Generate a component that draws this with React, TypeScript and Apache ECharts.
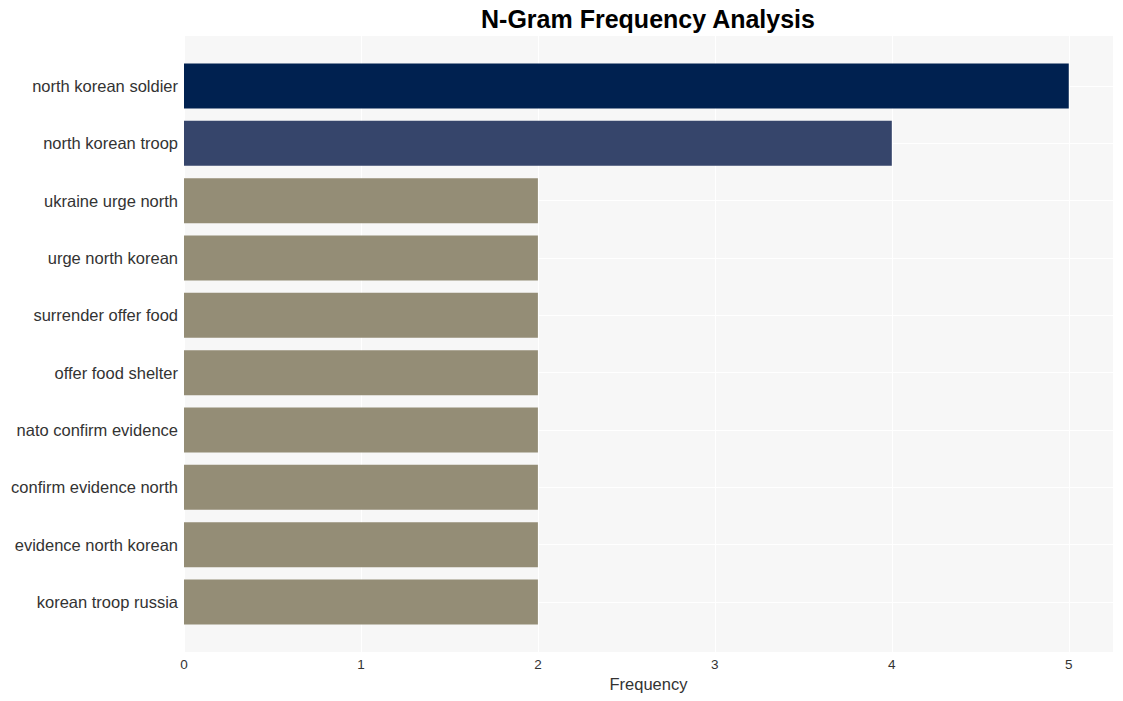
import React, { useEffect, useRef } from "react";
import * as echarts from "echarts";

const categories: string[] = [
  "north korean soldier",
  "north korean troop",
  "ukraine urge north",
  "urge north korean",
  "surrender offer food",
  "offer food shelter",
  "nato confirm evidence",
  "confirm evidence north",
  "evidence north korean",
  "korean troop russia",
];
const frequencies: number[] = [5, 4, 2, 2, 2, 2, 2, 2, 2, 2];
const barColors: string[] = [
  "#002150",
  "#36456b",
  "#948d76",
  "#948d76",
  "#948d76",
  "#948d76",
  "#948d76",
  "#948d76",
  "#948d76",
  "#948d76",
];
const xTicks: number[] = [0, 1, 2, 3, 4, 5];

export default function App() {
  const ref = useRef<HTMLDivElement>(null);
  useEffect(() => {
    document.body.style.margin = "0";
    if (!ref.current) return;
    const chart = echarts.init(ref.current, undefined, { renderer: "svg" });
    const plotLeft = 184;
    const plotRight = 10;
    const plotTop = 36;
    const plotBottom = 49;
    const plotH = 701 - plotTop - plotBottom;
    const band = 57.33;
    const pad = (plotH - band * categories.length) / 2;
    const font = "Liberation Sans, Arial, sans-serif";

    chart.setOption({
      animation: false,
      title: {
        text: "N-Gram Frequency Analysis",
        left: 643,
        top: 1,
        textAlign: "center",
        textStyle: {
          fontFamily: font,
          fontSize: 25,
          fontWeight: "bold",
          color: "#000",
        },
      },
      grid: [
        {
          left: plotLeft,
          right: plotRight,
          top: plotTop,
          bottom: plotBottom,
          show: true,
          backgroundColor: "#f7f7f7",
          borderWidth: 0,
        },
        {
          left: plotLeft,
          right: plotRight,
          top: plotTop + pad,
          height: band * categories.length,
          show: false,
        },
      ],
      xAxis: [
        {
          type: "value",
          gridIndex: 0,
          min: 0,
          max: 5.25,
          interval: 1,
          axisLine: { show: false },
          axisTick: { show: false },
          splitLine: {
            show: true,
            showMaxLine: false,
            lineStyle: { color: "#ffffff", width: 1 },
          },
          axisLabel: {
            color: "#333",
            fontFamily: font,
            fontSize: 13.5,
            margin: 5,
            showMaxLabel: false,
            formatter: (v: number) => (xTicks.includes(v) ? String(v) : ""),
          },
          name: "Frequency",
          nameLocation: "middle",
          nameGap: 23,
          nameTextStyle: { color: "#333", fontFamily: font, fontSize: 16.5 },
        },
        {
          type: "value",
          gridIndex: 1,
          min: 0,
          max: 5.25,
          show: false,
        },
      ],
      yAxis: [
        {
          type: "category",
          gridIndex: 1,
          inverse: true,
          data: categories,
          axisLine: { show: false },
          axisTick: { show: false },
          splitLine: {
            show: true,
            alignWithLabel: true,
            lineStyle: { color: "#ffffff", width: 1 },
          },
          axisLabel: {
            color: "#333",
            fontFamily: font,
            fontSize: 16.5,
            margin: 6,
          },
        },
        {
          type: "value",
          gridIndex: 0,
          show: false,
          splitLine: { show: false },
        },
      ],
      series: [
        {
          type: "bar",
          xAxisIndex: 1,
          yAxisIndex: 0,
          barWidth: 45,
          data: frequencies.map((v, i) => ({
            value: v,
            itemStyle: { color: barColors[i] },
          })),
        },
      ],
    });
    return () => chart.dispose();
  }, []);
  return <div ref={ref} style={{ width: 1123, height: 701 }} />;
}
